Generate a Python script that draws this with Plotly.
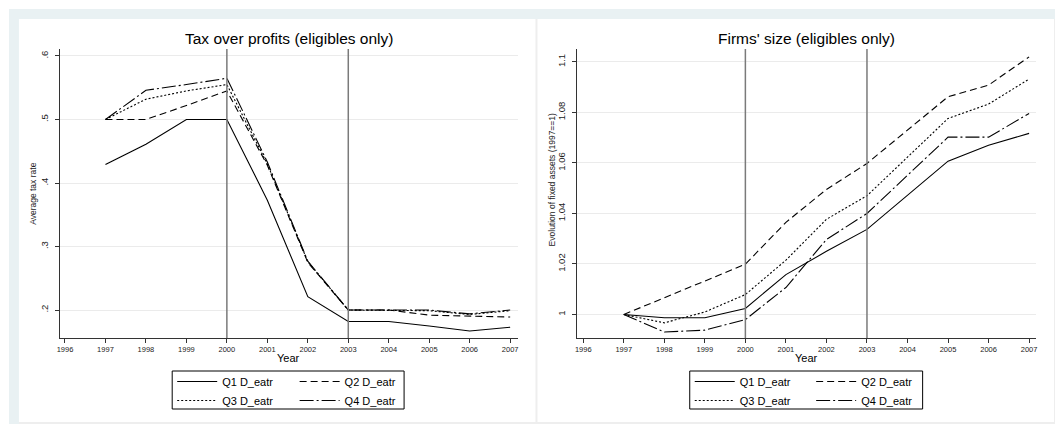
import plotly.graph_objects as go

W, H = 1057, 424
FONT = "Liberation Sans, Arial, sans-serif"

# ---- data -------------------------------------------------------------
years = list(range(1997, 2008))

series_names = ["Q1 D_eatr", "Q2 D_eatr", "Q3 D_eatr", "Q4 D_eatr"]

# average tax rate by quartile
tax_q1 = [0.429, 0.461, 0.500, 0.500, 0.373, 0.221, 0.182, 0.182, 0.175, 0.167, 0.173]
tax_q2 = [0.500, 0.500, 0.522, 0.545, 0.428, 0.275, 0.200, 0.200, 0.192, 0.190, 0.189]
tax_q3 = [0.500, 0.532, 0.545, 0.555, 0.430, 0.276, 0.200, 0.200, 0.199, 0.193, 0.199]
tax_q4 = [0.500, 0.546, 0.555, 0.565, 0.433, 0.277, 0.200, 0.200, 0.200, 0.194, 0.200]

# fixed assets index (1997 == 1) by quartile
size_q1 = [1.000, 0.9987, 0.9987, 1.0024, 1.0158, 1.0250, 1.0337, 1.0471, 1.0607, 1.0670, 1.0717]
size_q2 = [1.000, 1.0067, 1.0133, 1.0199, 1.0365, 1.0495, 1.0598, 1.0730, 1.0862, 1.0908, 1.1020]
size_q3 = [1.000, 0.9967, 1.0010, 1.0079, 1.0215, 1.0377, 1.0470, 1.0623, 1.0776, 1.0833, 1.0932]
size_q4 = [1.000, 0.9931, 0.9938, 0.9980, 1.0107, 1.0297, 1.0400, 1.0551, 1.0702, 1.0702, 1.0796]

x_ticks = list(range(1996, 2008))
tax_ticks = [0.2, 0.3, 0.4, 0.5, 0.6]
tax_tick_text = [".2", ".3", ".4", ".5", ".6"]
size_ticks = [1.0, 1.02, 1.04, 1.06, 1.08, 1.1]
size_tick_text = ["1", "1.02", "1.04", "1.06", "1.08", "1.1"]
event_years = [2000, 2003]

# ---- styling ----------------------------------------------------------
dash_styles = ["solid", "7px,4px", "2px,2px", "14px,3px,2px,3px"]
left_legends = ["legend", "legend2", "legend", "legend2"]
right_legends = ["legend3", "legend4", "legend3", "legend4"]


def fx(p):
    return p / W


def fy(p):
    return 1 - p / H


fig = go.Figure()

for vals, name, dash, lg in zip([tax_q1, tax_q2, tax_q3, tax_q4], series_names,
                                dash_styles, left_legends):
    fig.add_trace(go.Scatter(x=years, y=vals, name=name, mode="lines",
                             line=dict(color="#000000", width=1.1, dash=dash),
                             xaxis="x", yaxis="y", legend=lg))

for vals, name, dash, lg in zip([size_q1, size_q2, size_q3, size_q4], series_names,
                                dash_styles, right_legends):
    fig.add_trace(go.Scatter(x=years, y=vals, name=name, mode="lines",
                             line=dict(color="#000000", width=1.1, dash=dash),
                             xaxis="x2", yaxis="y2", legend=lg))

axis_common = dict(showline=True, linecolor="#333333", linewidth=1.3,
                   ticks="outside", ticklen=4, tickwidth=1, tickcolor="#333333",
                   zeroline=False, fixedrange=True)

xaxis_common = dict(axis_common, tickmode="array", tickvals=x_ticks,
                    showgrid=False,
                    tickfont=dict(family=FONT, size=7.5, color="#222222"))

yaxis_common = dict(axis_common, showgrid=True, gridcolor="#ebebeb", gridwidth=1,
                    tickangle=-90, ticklabelstandoff=3,
                    tickfont=dict(family=FONT, size=9.5, color="#222222"))

plot_top, plot_bottom = 49, 338

fig.update_layout(
    xaxis=dict(xaxis_common, domain=[fx(57), fx(517.7)], range=[1995.87, 2007.2],
               anchor="y"),
    yaxis=dict(yaxis_common, domain=[fy(plot_bottom), fy(plot_top)],
               range=[0.156, 0.611], tickmode="array", tickvals=tax_ticks,
               ticktext=tax_tick_text, anchor="x"),
    xaxis2=dict(xaxis_common, domain=[fx(576.7), fx(1037.7)], range=[1995.845, 2007.165],
                anchor="y2"),
    yaxis2=dict(yaxis_common, domain=[fy(plot_bottom), fy(plot_top)],
                range=[0.9907, 1.1051], tickmode="array", tickvals=size_ticks,
                ticktext=size_tick_text, anchor="x2"),
)

# ---- background frames ------------------------------------------------
shapes = [
    dict(type="rect", xref="paper", yref="paper", x0=fx(6), x1=1, y0=0, y1=fy(9),
         fillcolor="#e9f1f3", line=dict(width=0), layer="below"),
    dict(type="rect", xref="paper", yref="paper", x0=fx(16), x1=1, y0=0, y1=fy(19),
         fillcolor="#eeeeee", line=dict(width=0), layer="below"),
    dict(type="rect", xref="paper", yref="paper", x0=fx(16), x1=fx(535), y0=fy(422), y1=fy(19),
         fillcolor="#ffffff", line=dict(width=0), layer="below"),
    dict(type="rect", xref="paper", yref="paper", x0=fx(537), x1=fx(1056), y0=fy(422), y1=fy(19),
         fillcolor="#ffffff", line=dict(width=0), layer="below"),
]

# reform years
for xa in ["x", "x2"]:
    ya = "y" if xa == "x" else "y2"
    for yr in event_years:
        shapes.append(dict(type="line", xref=xa, yref=ya + " domain", x0=yr, x1=yr,
                           y0=0, y1=1, line=dict(color="#7a7a7a", width=1.5)))

# legend frames
for x0, x1 in [(170, 403), (690, 924)]:
    shapes.append(dict(type="rect", xref="paper", yref="paper",
                       x0=fx(x0), x1=fx(x1), y0=fy(409), y1=fy(371),
                       fillcolor="rgba(0,0,0,0)", line=dict(color="#000000", width=1)))

fig.update_layout(shapes=shapes)

# ---- legends ----------------------------------------------------------
legend_common = dict(orientation="v", xanchor="left", yanchor="top",
                     bgcolor="rgba(0,0,0,0)", borderwidth=0, itemwidth=40,
                     font=dict(family=FONT, size=11, color="#000000"),
                     traceorder="normal", tracegroupgap=0)
legend_top = 367
fig.update_layout(
    legend=dict(legend_common, x=fx(170), y=fy(legend_top)),
    legend2=dict(legend_common, x=fx(293), y=fy(legend_top)),
    legend3=dict(legend_common, x=fx(690), y=fy(legend_top)),
    legend4=dict(legend_common, x=fx(812), y=fy(legend_top)),
)

# ---- titles and axis labels -------------------------------------------
annotations = [
    dict(text="Tax over profits (eligibles only)", x=fx(287), y=fy(39),
         font=dict(family=FONT, size=15.5, color="#000000")),
    dict(text="Firms' size (eligibles only)", x=fx(807), y=fy(39),
         font=dict(family=FONT, size=15.5, color="#000000")),
    dict(text="Year", x=fx(287), y=fy(358),
         font=dict(family=FONT, size=11, color="#000000")),
    dict(text="Year", x=fx(807), y=fy(358),
         font=dict(family=FONT, size=11, color="#000000")),
    dict(text="Average tax rate", x=fx(30), y=fy(194), textangle=-90,
         font=dict(family=FONT, size=8.5, color="#222222")),
    dict(text="Evolution of fixed assets (1997==1)", x=fx(552), y=fy(180), textangle=-90,
         font=dict(family=FONT, size=8.5, color="#222222")),
]
for a in annotations:
    a.update(xref="paper", yref="paper", showarrow=False, xanchor="center", yanchor="middle")
fig.update_layout(annotations=annotations)

fig.update_layout(width=W, height=H, margin=dict(l=0, r=0, t=0, b=0),
                  paper_bgcolor="#ffffff", plot_bgcolor="rgba(0,0,0,0)",
                  showlegend=True)

fig.write_html("out.html", config={"displayModeBar": False})
